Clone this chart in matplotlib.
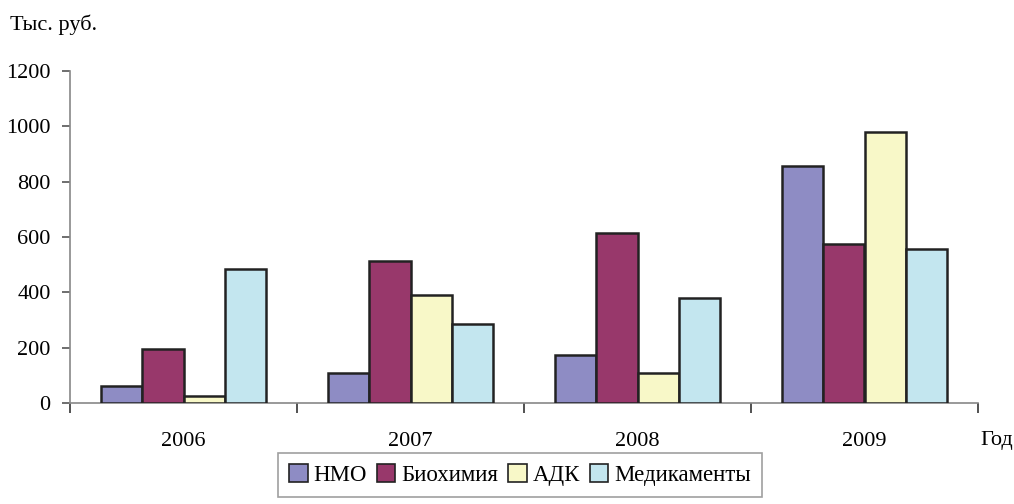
import numpy as np
import matplotlib.pyplot as plt

# данные, тыс. руб.
years = ["2006", "2007", "2008", "2009"]
series_names = ["НМО", "Биохимия", "АДК", "Медикаменты"]
nmo = [60, 110, 175, 855]
bio = [195, 515, 615, 575]
adk = [25, 390, 110, 978]
med = [485, 285, 380, 555]
colors = ["#8e8cc4", "#98386b", "#f8f8c8", "#c3e6ef"]

plt.rcParams["font.family"] = ["Liberation Serif", "DejaVu Serif"]
plt.rcParams["font.size"] = 16

fig = plt.figure(figsize=(10.14, 5.04), dpi=100)
ax = fig.add_axes([70 / 1014, 101 / 504, 908 / 1014, 332 / 504])

x = np.arange(len(years))
w = 0.182
for i, (vals, name) in enumerate(zip([nmo, bio, adk, med], series_names)):
    ax.bar(x + (i - 1.5) * w, vals, width=w, color=colors[i], edgecolor="#222222",
           linewidth=1.8, label=name, zorder=3)

ax.set_xlim(-0.5, len(years) - 0.5)
ax.set_ylim(0, 1200)
ax.set_yticks(range(0, 1201, 200))
ax.set_xticks(np.arange(-0.5, len(years), 1.0))
ax.set_xticklabels([])
ax.set_xticks(x, minor=True)
ax.set_xticklabels(years, minor=True)
ax.tick_params(axis="x", which="minor", length=0, pad=21)
ax.tick_params(axis="x", which="major", length=7, width=1.2, color="#333333", direction="out")
ax.tick_params(axis="y", length=6, width=1.2, color="#555555", pad=8)

for s in ["top", "right"]:
    ax.spines[s].set_visible(False)
for s in ["left", "bottom"]:
    ax.spines[s].set_color("#888888")
    ax.spines[s].set_linewidth(1.2)

fig.text(10 / 1014, 1 - 25 / 504, "Тыс. руб.", fontsize=16, va="center", ha="left")
fig.text(1013 / 1014, 1 - 440 / 504, "Год", fontsize=16, va="center", ha="right")

leg = fig.legend(loc="center", bbox_to_anchor=(520 / 1014, 1 - 475 / 504), ncol=4,
                 frameon=True, fancybox=False, handlelength=0.8, handleheight=0.8,
                 handletextpad=0.25, columnspacing=0.45, borderpad=0.5, fontsize=16.5)
leg.get_frame().set_edgecolor("#888888")
leg.get_frame().set_linewidth(1.2)
for h in leg.legend_handles:
    h.set_linewidth(1.2)

fig.savefig("out.png", dpi=100)
